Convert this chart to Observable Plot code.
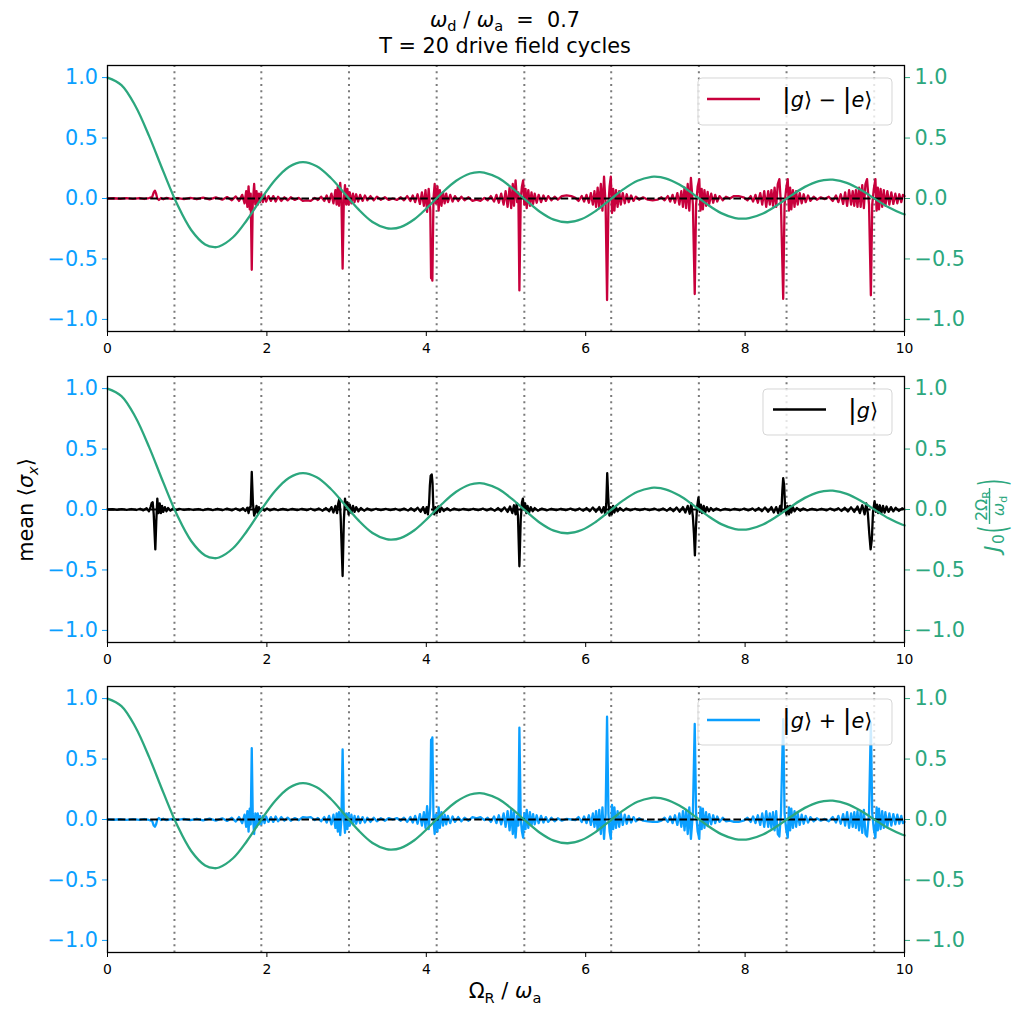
<!DOCTYPE html>
<html><head><meta charset="utf-8">
<script src="https://cdn.jsdelivr.net/npm/d3@7"></script>
<script src="https://cdn.jsdelivr.net/npm/@observablehq/plot@0.6"></script>
<style>
body{margin:0;background:#fff;}
#fig{position:relative;width:1015px;height:1017px;font-family:"DejaVu Sans",sans-serif;}
#fig > svg{position:absolute;left:0;}
text{white-space:pre;}
</style></head><body><div id="fig"></div>
<script>
// ---------- data ----------
const xTicks = [0, 2, 4, 6, 8, 10];
const yTicks = [-1, -0.5, 0, 0.5, 1];
const zeroLines = [0.84, 1.93, 3.03, 4.13, 5.23, 6.32, 7.42, 8.52, 9.62];

const besselPts = [[0,1],[0.175,0.9385],[0.35,0.7652],[0.525,0.5118],[0.7,0.2239],[0.875,-0.0484],[1.05,-0.2601],[1.225,-0.3801],[1.341,-0.4028],[1.4,-0.3971],[1.575,-0.3205],[1.75,-0.1776],[1.925,-0.0068],[2.1,0.1506],[2.275,0.2601],[2.45,0.3001],[2.625,0.2663],[2.8,0.1717],[2.975,0.0419],[3.15,-0.0903],[3.325,-0.1939],[3.5,-0.2459],[3.561,-0.2497],[3.675,-0.2366],[3.85,-0.1712],[4.025,-0.0677],[4.2,0.0477],[4.375,0.1469],[4.55,0.2069],[4.663,0.2184],[4.725,0.2150],[4.9,0.1711],[5.075,0.0875],[5.25,-0.0142],[5.425,-0.1092],[5.6,-0.1749],[5.775,-0.1964],[5.95,-0.1699],[6.125,-0.1031],[6.3,-0.0134],[6.475,0.0772],[6.65,0.1466],[6.825,0.1789],[6.866,0.1801],[7.0,0.1670],[7.175,0.1151],[7.35,0.0366],[7.525,-0.0489],[7.7,-0.1207],[7.875,-0.1615],[7.966,-0.1672],[8.05,-0.1624],[8.225,-0.1239],[8.4,-0.0562],[8.575,0.0237],[8.75,0.0963],[8.925,0.1441],[9.066,0.1567],[9.1,0.1560],[9.275,0.1299],[9.45,0.0727],[9.625,-0.0010],[9.8,-0.0732],[9.975,-0.1263],[10,-0.1315]];

const redPts = [
[0,0],[0.08,0.002],[0.16,-0.002],[0.24,0.003],[0.32,-0.003],[0.4,0.004],[0.46,-0.004],[0.52,0.004],[0.56,0.012],[0.58,0.05],[0.595,0.065],[0.61,0.04],[0.625,0.0],[0.645,-0.012],[0.67,0.004],[0.7,-0.006],[0.74,0.005],[0.8,-0.004],[0.88,0.004],[0.96,-0.005],[1.04,0.005],[1.12,-0.006],[1.2,0.007],[1.28,-0.008],[1.36,0.009],[1.44,-0.01],[1.5,0.012],[1.56,-0.014],[1.61,0.017],[1.65,-0.02],[1.69,0.03],[1.72,-0.04],
[1.74,0.06],[1.755,-0.07],[1.77,0.1],[1.785,-0.09],[1.797,0.04],[1.81,-0.59],[1.822,-0.05],[1.84,0.12],[1.855,-0.05],[1.87,0.06],[1.885,-0.05],[1.9,0.04],[1.915,-0.03],[1.93,0.04],[1.95,-0.03],[1.97,0.03],[1.99,-0.025],[2.02,0.02],[2.05,-0.02],[2.08,0.02],[2.11,-0.025],[2.14,0.015],[2.18,-0.02],[2.22,0.01],[2.26,-0.015],[2.3,0.01],[2.35,-0.012],[2.4,0.005],[2.45,-0.02],[2.5,-0.015],[2.55,-0.02],[2.6,0.005],[2.64,-0.012],[2.68,0.015],[2.72,-0.02],[2.75,0.025],[2.78,-0.03],[2.81,0.04],[2.835,-0.04],[2.86,0.07],[2.875,-0.05],[2.89,0.1],[2.905,-0.06],[2.92,0.13],[2.935,0.0],
[2.95,-0.58],[2.965,-0.02],[2.98,0.11],[2.995,-0.05],[3.01,0.08],[3.025,-0.05],[3.04,0.05],[3.06,-0.04],[3.08,0.04],[3.1,-0.03],[3.12,0.035],[3.145,-0.025],[3.17,0.03],[3.2,-0.02],[3.23,0.025],[3.26,-0.015],[3.3,0.02],[3.34,-0.015],[3.38,0.015],[3.43,-0.01],[3.48,0.01],[3.53,-0.012],[3.58,0.0],[3.63,-0.012],[3.68,0.01],[3.72,-0.015],[3.76,0.02],[3.8,-0.02],[3.83,0.025],[3.86,-0.03],[3.89,0.035],[3.92,-0.045],[3.945,0.05],[3.97,-0.06],[3.99,0.07],[4.01,-0.11],[4.03,0.08],[4.05,-0.1],
[4.06,-0.66],[4.068,-0.6],[4.076,-0.68],[4.09,0.0],[4.105,0.12],[4.12,-0.04],[4.14,0.1],[4.155,-0.1],[4.17,0.07],[4.19,-0.06],[4.21,0.05],[4.23,-0.04],[4.25,0.04],[4.27,-0.03],[4.3,0.03],[4.33,-0.025],[4.36,0.02],[4.4,-0.02],[4.44,0.015],[4.48,-0.015],[4.53,0.01],[4.58,-0.02],[4.63,-0.01],[4.68,-0.02],[4.73,0.005],[4.77,-0.015],[4.81,0.02],[4.85,-0.025],[4.88,0.03],[4.91,-0.035],[4.94,0.04],[4.97,-0.05],[4.995,0.06],[5.02,-0.07],[5.045,0.09],[5.065,-0.08],[5.085,0.12],[5.1,-0.06],[5.12,0.15],[5.14,-0.03],[5.155,0.05],
[5.168,-0.76],[5.185,0.0],[5.2,0.1],[5.215,0.15],[5.23,-0.05],[5.245,0.08],[5.26,-0.08],[5.28,0.07],[5.3,-0.06],[5.32,0.05],[5.34,-0.045],[5.36,0.04],[5.385,-0.035],[5.41,0.03],[5.44,-0.03],[5.47,0.025],[5.5,-0.02],[5.53,0.02],[5.57,-0.015],[5.61,0.015],[5.65,-0.01],[5.7,0.02],[5.76,0.025],[5.82,0.02],[5.87,0.005],[5.91,-0.02],[5.95,0.02],[5.98,-0.025],[6.01,0.03],[6.04,-0.035],[6.065,0.045],[6.09,-0.05],[6.11,0.06],[6.13,-0.07],[6.15,0.09],[6.17,-0.08],[6.19,0.12],[6.21,-0.1],[6.23,0.18],[6.25,-0.05],
[6.268,-0.84],[6.285,-0.05],[6.3,0.1],[6.315,0.18],[6.33,-0.12],[6.345,0.08],[6.36,-0.1],[6.38,0.07],[6.4,-0.07],[6.42,0.06],[6.44,-0.05],[6.465,0.045],[6.49,-0.04],[6.515,0.035],[6.54,-0.03],[6.57,0.025],[6.6,-0.02],[6.63,0.015],[6.67,-0.01],[6.72,0.01],[6.78,-0.01],[6.84,-0.015],[6.9,-0.01],[6.95,0.01],[6.99,-0.015],[7.03,0.02],[7.06,-0.025],[7.09,0.03],[7.12,-0.035],[7.15,0.045],[7.175,-0.05],[7.2,0.06],[7.22,-0.07],[7.24,0.09],[7.26,-0.08],[7.28,0.12],[7.3,-0.1],[7.32,0.17],[7.345,-0.05],
[7.368,-0.79],[7.385,-0.05],[7.405,0.1],[7.425,0.16],[7.44,-0.1],[7.455,0.08],[7.47,-0.09],[7.49,0.07],[7.51,-0.06],[7.53,0.055],[7.55,-0.045],[7.575,0.04],[7.6,-0.035],[7.625,0.03],[7.65,-0.025],[7.68,0.02],[7.72,-0.015],[7.76,0.015],[7.81,0.0],[7.86,0.02],[7.92,0.02],[7.98,0.01],[8.03,-0.015],[8.07,0.02],[8.1,-0.025],[8.13,0.03],[8.16,-0.035],[8.19,0.045],[8.215,-0.05],[8.24,0.06],[8.265,-0.07],[8.29,0.06],[8.31,-0.05],[8.33,0.07],[8.35,-0.06],[8.37,0.09],[8.39,-0.07],[8.41,0.12],[8.43,0.16],[8.45,-0.05],
[8.478,-0.83],[8.495,-0.05],[8.515,0.08],[8.535,0.16],[8.55,-0.1],[8.565,0.09],[8.58,-0.09],[8.6,0.07],[8.62,-0.07],[8.64,0.06],[8.66,-0.05],[8.685,0.045],[8.71,-0.04],[8.735,0.035],[8.76,-0.03],[8.79,0.025],[8.82,-0.02],[8.86,0.015],[8.9,-0.01],[8.95,0.01],[9.0,-0.005],[9.05,0.015],[9.1,-0.02],[9.14,0.025],[9.17,-0.03],[9.2,0.035],[9.23,-0.045],[9.255,0.05],[9.28,-0.06],[9.305,0.07],[9.33,-0.05],[9.35,0.06],[9.37,-0.06],[9.39,0.07],[9.41,-0.07],[9.43,0.09],[9.45,-0.07],[9.47,0.11],[9.49,-0.08],[9.51,0.12],[9.53,0.16],[9.555,-0.05],
[9.578,-0.8],[9.595,-0.05],[9.615,0.08],[9.635,0.16],[9.65,-0.1],[9.665,0.09],[9.68,-0.09],[9.7,0.08],[9.72,-0.07],[9.74,0.07],[9.76,-0.06],[9.785,0.06],[9.81,-0.05],[9.835,0.05],[9.86,-0.045],[9.885,0.04],[9.91,-0.04],[9.935,0.035],[9.96,-0.03],[9.98,0.03],[10,0.02]
];

const blackPts = [
[0,0],[0.06,0.002],[0.12,-0.002],[0.18,0.003],[0.24,-0.003],[0.3,0.004],[0.36,-0.004],[0.41,0.006],[0.45,-0.007],[0.49,0.01],[0.52,-0.015],[0.54,0.02],[0.555,0.055],[0.567,0.06],[0.58,-0.04],[0.6,-0.33],[0.612,-0.1],[0.625,0.09],[0.64,-0.03],[0.655,0.05],[0.67,-0.03],[0.685,0.03],[0.7,-0.02],[0.72,0.02],[0.74,-0.015],[0.76,0.012],[0.79,-0.01],[0.82,0.008],[0.86,-0.006],[0.9,0.005],[0.96,-0.004],[1.02,0.004],[1.08,-0.004],[1.14,0.004],[1.2,-0.005],[1.26,0.005],[1.32,-0.005],[1.38,0.006],[1.44,-0.006],[1.5,0.007],[1.56,-0.007],[1.61,0.008],[1.66,-0.009],[1.7,0.01],[1.73,-0.012],[1.755,0.015],[1.77,-0.03],[1.785,0.02],[1.797,0.02],[1.81,0.31],[1.825,0.05],[1.84,-0.05],[1.855,-0.02],[1.87,0.03],[1.885,-0.03],[1.9,0.02],[1.92,-0.015],[1.94,0.012],[1.97,-0.01],[2.0,0.008],[2.04,-0.008],[2.09,0.006],[2.14,-0.006],[2.2,0.005],[2.26,-0.005],[2.32,0.005],[2.38,-0.005],[2.44,0.005],[2.5,-0.006],[2.55,0.006],[2.6,-0.008],[2.65,0.009],[2.7,-0.01],[2.74,0.012],[2.78,-0.015],[2.81,0.02],[2.835,-0.025],[2.86,0.03],[2.88,-0.03],[2.895,0.05],[2.91,0.09],[2.925,-0.05],[2.95,-0.55],[2.965,-0.1],[2.98,0.09],[2.995,0.02],[3.01,0.06],[3.025,-0.04],[3.04,0.04],[3.06,-0.03],[3.08,0.03],[3.1,-0.02],[3.12,0.02],[3.15,-0.015],[3.18,0.012],[3.22,-0.01],[3.26,0.008],[3.31,-0.007],[3.37,0.006],[3.43,-0.005],[3.49,0.005],[3.55,-0.005],[3.61,0.006],[3.67,-0.007],[3.72,0.008],[3.77,-0.009],[3.81,0.01],[3.85,-0.012],[3.89,0.015],[3.93,-0.018],[3.96,0.02],[3.985,-0.03],[4.005,0.02],[4.02,-0.04],[4.035,0.05],[4.045,0.2],[4.055,0.28],[4.068,0.29],[4.078,0.22],[4.088,0.02],[4.1,-0.04],[4.115,0.02],[4.13,-0.03],[4.15,0.025],[4.17,-0.02],[4.19,0.015],[4.22,-0.012],[4.26,0.01],[4.3,-0.008],[4.35,0.007],[4.41,-0.006],[4.47,0.005],[4.53,-0.005],[4.59,0.006],[4.65,-0.006],[4.71,0.007],[4.76,-0.008],[4.81,0.009],[4.86,-0.01],[4.9,0.012],[4.94,-0.014],[4.98,0.017],[5.02,-0.02],[5.05,0.025],[5.08,-0.03],[5.1,0.035],[5.12,-0.04],[5.135,0.05],[5.15,-0.05],[5.168,-0.47],[5.185,-0.08],[5.2,0.06],[5.212,0.09],[5.225,0.0],[5.24,0.05],[5.255,-0.03],[5.27,0.03],[5.29,-0.025],[5.31,0.02],[5.335,-0.015],[5.36,0.012],[5.4,-0.01],[5.45,0.008],[5.51,-0.007],[5.57,0.006],[5.63,-0.006],[5.69,0.006],[5.75,-0.006],[5.81,0.007],[5.87,-0.008],[5.92,0.009],[5.97,-0.01],[6.01,0.012],[6.05,-0.014],[6.09,0.016],[6.13,-0.018],[6.17,0.02],[6.2,-0.025],[6.225,0.02],[6.245,-0.04],[6.258,0.05],[6.27,0.3],[6.283,0.1],[6.297,-0.05],[6.312,0.02],[6.327,-0.04],[6.343,0.03],[6.36,-0.025],[6.38,0.02],[6.4,-0.015],[6.43,0.012],[6.47,-0.01],[6.51,0.008],[6.56,-0.007],[6.62,0.006],[6.68,-0.006],[6.74,0.006],[6.8,-0.006],[6.86,0.007],[6.92,-0.008],[6.97,0.009],[7.02,-0.01],[7.06,0.012],[7.1,-0.014],[7.14,0.016],[7.18,-0.018],[7.22,0.02],[7.25,-0.025],[7.28,0.03],[7.305,-0.035],[7.325,0.05],[7.345,-0.06],[7.358,-0.2],[7.37,-0.38],[7.383,-0.15],[7.397,0.02],[7.415,0.1],[7.43,-0.02],[7.445,0.04],[7.46,-0.03],[7.48,0.03],[7.5,-0.025],[7.52,0.02],[7.545,-0.015],[7.57,0.012],[7.6,-0.01],[7.64,0.008],[7.69,-0.007],[7.75,0.006],[7.81,-0.006],[7.87,0.006],[7.93,-0.006],[7.99,0.007],[8.04,-0.008],[8.09,0.009],[8.13,-0.01],[8.17,0.012],[8.21,-0.014],[8.25,0.016],[8.29,-0.018],[8.33,0.02],[8.36,-0.025],[8.39,0.02],[8.415,-0.03],[8.44,0.03],[8.455,-0.02],[8.467,0.15],[8.478,0.26],[8.49,0.2],[8.503,0.0],[8.518,-0.04],[8.533,0.03],[8.55,-0.04],[8.565,0.03],[8.58,-0.025],[8.6,0.02],[8.62,-0.015],[8.65,0.012],[8.69,-0.01],[8.73,0.008],[8.78,-0.007],[8.84,0.006],[8.9,-0.006],[8.96,0.006],[9.02,-0.007],[9.07,0.008],[9.12,-0.009],[9.17,0.01],[9.21,-0.012],[9.25,0.014],[9.29,-0.016],[9.33,0.018],[9.37,-0.02],[9.41,0.025],[9.44,-0.03],[9.47,0.035],[9.5,-0.04],[9.52,0.05],[9.54,-0.03],[9.558,-0.2],[9.575,-0.33],[9.59,-0.25],[9.605,-0.02],[9.625,0.07],[9.64,-0.02],[9.655,0.04],[9.67,-0.03],[9.69,0.035],[9.71,-0.03],[9.73,0.03],[9.75,-0.025],[9.775,0.025],[9.8,-0.02],[9.83,0.02],[9.86,-0.015],[9.89,0.015],[9.93,-0.012],[9.97,0.01],[10,0.0]
];

const bluePts = [
[0,0],[0.08,-0.002],[0.16,0.002],[0.24,-0.003],[0.32,0.003],[0.4,-0.004],[0.46,0.004],[0.52,-0.004],[0.56,-0.012],[0.58,-0.05],[0.595,-0.06],[0.61,-0.04],[0.625,0.0],[0.645,0.012],[0.67,-0.004],[0.7,0.006],[0.74,-0.005],[0.8,0.004],[0.88,-0.004],[0.96,0.005],[1.04,-0.005],[1.12,0.006],[1.2,-0.007],[1.28,0.008],[1.36,-0.009],[1.44,0.01],[1.5,-0.012],[1.56,0.014],[1.61,-0.017],[1.65,0.02],[1.69,-0.03],[1.72,0.04],
[1.74,-0.06],[1.755,0.07],[1.77,-0.1],[1.785,0.09],[1.797,-0.04],[1.81,0.59],[1.822,0.05],[1.84,-0.12],[1.855,0.05],[1.87,-0.06],[1.885,0.05],[1.9,-0.04],[1.915,0.03],[1.93,-0.04],[1.95,0.03],[1.97,-0.03],[1.99,0.025],[2.02,-0.02],[2.05,0.02],[2.08,-0.02],[2.11,0.025],[2.14,-0.015],[2.18,0.02],[2.22,-0.01],[2.26,0.015],[2.3,-0.01],[2.35,0.012],[2.4,-0.005],[2.45,0.02],[2.5,0.015],[2.55,0.02],[2.6,-0.005],[2.64,0.012],[2.68,-0.015],[2.72,0.02],[2.75,-0.025],[2.78,0.03],[2.81,-0.04],[2.835,0.04],[2.86,-0.07],[2.875,0.05],[2.89,-0.1],[2.905,0.06],[2.92,-0.13],[2.935,0.0],
[2.95,0.58],[2.965,0.02],[2.98,-0.11],[2.995,0.05],[3.01,-0.08],[3.025,0.05],[3.04,-0.05],[3.06,0.04],[3.08,-0.04],[3.1,0.03],[3.12,-0.035],[3.145,0.025],[3.17,-0.03],[3.2,0.02],[3.23,-0.025],[3.26,0.015],[3.3,-0.02],[3.34,0.015],[3.38,-0.015],[3.43,0.01],[3.48,-0.01],[3.53,0.012],[3.58,0.0],[3.63,0.012],[3.68,-0.01],[3.72,0.015],[3.76,-0.02],[3.8,0.02],[3.83,-0.025],[3.86,0.03],[3.89,-0.035],[3.92,0.045],[3.945,-0.05],[3.97,0.06],[3.99,-0.07],[4.01,0.11],[4.03,-0.08],[4.05,0.1],
[4.06,0.66],[4.068,0.6],[4.076,0.68],[4.09,0.0],[4.105,-0.12],[4.12,0.04],[4.14,-0.1],[4.155,0.1],[4.17,-0.07],[4.19,0.06],[4.21,-0.05],[4.23,0.04],[4.25,-0.04],[4.27,0.03],[4.3,-0.03],[4.33,0.025],[4.36,-0.02],[4.4,0.02],[4.44,-0.015],[4.48,0.015],[4.53,-0.01],[4.58,0.02],[4.63,0.01],[4.68,0.02],[4.73,-0.005],[4.77,0.015],[4.81,-0.02],[4.85,0.025],[4.88,-0.03],[4.91,0.035],[4.94,-0.04],[4.97,0.05],[4.995,-0.06],[5.02,0.07],[5.045,-0.09],[5.065,0.08],[5.085,-0.12],[5.1,0.06],[5.12,-0.15],[5.14,0.03],[5.155,-0.05],
[5.168,0.76],[5.185,0.0],[5.2,-0.1],[5.215,-0.15],[5.23,0.05],[5.245,-0.08],[5.26,0.08],[5.28,-0.07],[5.3,0.06],[5.32,-0.05],[5.34,0.045],[5.36,-0.04],[5.385,0.035],[5.41,-0.03],[5.44,0.03],[5.47,-0.025],[5.5,0.02],[5.53,-0.02],[5.57,0.015],[5.61,-0.015],[5.65,0.01],[5.7,-0.01],[5.76,0.005],[5.82,0.0],[5.87,-0.005],[5.91,0.02],[5.95,-0.02],[5.98,0.025],[6.01,-0.03],[6.04,0.035],[6.065,-0.045],[6.09,0.05],[6.11,-0.06],[6.13,0.07],[6.15,-0.09],[6.17,0.08],[6.19,-0.12],[6.21,0.1],[6.23,-0.16],[6.25,0.05],
[6.268,0.85],[6.285,0.05],[6.3,-0.1],[6.315,-0.16],[6.33,0.12],[6.345,-0.08],[6.36,0.1],[6.38,-0.07],[6.4,0.07],[6.42,-0.06],[6.44,0.05],[6.465,-0.045],[6.49,0.04],[6.515,-0.035],[6.54,0.03],[6.57,-0.025],[6.6,0.02],[6.63,-0.015],[6.67,0.01],[6.72,-0.01],[6.78,-0.015],[6.84,-0.02],[6.9,-0.02],[6.95,-0.01],[6.99,0.015],[7.03,-0.02],[7.06,0.025],[7.09,-0.03],[7.12,0.035],[7.15,-0.045],[7.175,0.05],[7.2,-0.06],[7.22,0.07],[7.24,-0.09],[7.26,0.08],[7.28,-0.12],[7.3,0.1],[7.32,-0.16],[7.345,0.05],
[7.368,0.79],[7.385,0.05],[7.405,-0.1],[7.425,-0.16],[7.44,0.1],[7.455,-0.08],[7.47,0.09],[7.49,-0.07],[7.51,0.06],[7.53,-0.055],[7.55,0.045],[7.575,-0.04],[7.6,0.035],[7.625,-0.03],[7.65,0.025],[7.68,-0.02],[7.72,0.015],[7.76,-0.015],[7.81,-0.01],[7.86,-0.02],[7.92,-0.02],[7.98,-0.01],[8.03,0.015],[8.07,-0.02],[8.1,0.025],[8.13,-0.03],[8.16,0.035],[8.19,-0.045],[8.215,0.05],[8.24,-0.06],[8.265,0.07],[8.29,-0.06],[8.31,0.05],[8.33,-0.07],[8.35,0.06],[8.37,-0.09],[8.39,0.07],[8.41,-0.12],[8.43,-0.14],[8.45,0.05],
[8.478,0.83],[8.495,0.05],[8.515,-0.08],[8.535,-0.15],[8.55,0.1],[8.565,-0.09],[8.58,0.09],[8.6,-0.07],[8.62,0.07],[8.64,-0.06],[8.66,0.05],[8.685,-0.045],[8.71,0.04],[8.735,-0.035],[8.76,0.03],[8.79,-0.025],[8.82,0.02],[8.86,-0.015],[8.9,0.01],[8.95,-0.01],[9.0,0.005],[9.05,-0.015],[9.1,0.02],[9.14,-0.025],[9.17,0.03],[9.2,-0.035],[9.23,0.045],[9.255,-0.05],[9.28,0.06],[9.305,-0.07],[9.33,0.05],[9.35,-0.06],[9.37,0.06],[9.39,-0.07],[9.41,0.07],[9.43,-0.09],[9.45,0.07],[9.47,-0.11],[9.49,0.08],[9.51,-0.12],[9.53,-0.14],[9.555,0.05],
[9.578,0.8],[9.595,0.05],[9.615,-0.08],[9.635,-0.15],[9.65,0.1],[9.665,-0.09],[9.68,0.09],[9.7,-0.08],[9.72,0.07],[9.74,-0.07],[9.76,0.06],[9.785,-0.06],[9.81,0.05],[9.835,-0.05],[9.86,0.045],[9.885,-0.04],[9.91,0.04],[9.935,-0.035],[9.96,0.03],[9.98,-0.03],[10,-0.02]
];

// ---------- styling ----------
const RED = "#c8003c", BLUE = "#0a9fff", GREEN = "#2ca77e", BLACK = "#000000";
const FONT = "DejaVu Sans";
const fig = document.getElementById("fig");
const fmt = d => (d < 0 ? "\u2212" + (-d).toFixed(1) : d.toFixed(1));

function panel(pts, color, top) {
  const p = Plot.plot({
    width: 1015, height: 300,
    marginLeft: 107, marginRight: 111, marginTop: 10, marginBottom: 24,
    x: {domain: [0, 10]},
    y: {domain: [-1.1, 1.1]},
    style: {fontFamily: FONT, background: "transparent", overflow: "visible"},
    marks: [
      Plot.ruleX(zeroLines, {stroke: "#7a7a7a", strokeWidth: 2, strokeDasharray: "2,4.3"}),
      Plot.line(pts, {x: d => d[0], y: d => d[1], stroke: color, strokeWidth: 2.3}),
      Plot.ruleY([0], {stroke: "black", strokeWidth: 2.1, strokeDasharray: "7.6,3.2"}),
      Plot.line(besselPts, {x: d => d[0], y: d => d[1], stroke: GREEN, strokeWidth: 2.3, curve: "catmull-rom"}),
      Plot.axisX({ticks: xTicks, tickFormat: d => String(d), fontSize: 13.9, tickSize: 5, tickPadding: 7, label: null, color: "black"}),
      Plot.axisY({anchor: "left", ticks: yTicks, tickFormat: fmt, fontSize: 20.8, tickSize: 5, tickPadding: 4.5, label: null, color: BLUE}),
      Plot.axisY({anchor: "right", ticks: yTicks, tickFormat: fmt, fontSize: 20.8, tickSize: 5, tickPadding: 5, label: null, color: GREEN}),
      Plot.frame({stroke: "black", strokeWidth: 1.3})
    ]
  });
  p.style.top = top + "px";
  fig.appendChild(p);
}
panel(redPts, RED, 55);
panel(blackPts, BLACK, 366);
panel(bluePts, BLUE, 676);

// ---------- overlay: titles, labels, legends ----------
const svg = d3.create("svg").attr("width", 1015).attr("height", 1017)
  .style("position", "absolute").style("top", "0px").style("left", "0px")
  .attr("font-family", FONT);
fig.appendChild(svg.node());

function rich(g, x, y, segs, o) {
  const t = g.append("text").attr("x", x).attr("y", y)
    .attr("font-size", o.size).attr("fill", o.fill || "black")
    .attr("text-anchor", o.anchor || "start");
  let shift = 0;
  for (const s of segs) {
    const target = s.sub ? o.size * 0.22 : 0;
    const ts = t.append("tspan").text(s.t);
    if (target !== shift) { ts.attr("dy", target - shift); shift = target; }
    if (s.sub) ts.attr("font-size", o.size * 0.7);
    if (s.big) ts.attr("font-size", o.size * s.big);
    if (s.i) ts.attr("font-style", "italic");
  }
  return t;
}

// title
rich(svg, 505, 26.5, [{t: "ω", i: 1}, {t: "d", sub: 1}, {t: " / "}, {t: "ω", i: 1}, {t: "a", sub: 1}, {t: "  =  0.7"}], {size: 20.8, anchor: "middle"});
rich(svg, 505, 53, [{t: "T = 20 drive field cycles"}], {size: 20.8, anchor: "middle"});

// x label
rich(svg, 505, 998, [{t: "Ω"}, {t: "R", sub: 1}, {t: " / "}, {t: "ω", i: 1}, {t: "a", sub: 1}], {size: 20.8, anchor: "middle"});

// left y label
const gl = svg.append("g").attr("transform", "translate(33,510) rotate(-90)");
rich(gl, 0, 0, [{t: "mean ⟨"}, {t: "σ", i: 1}, {t: "x", i: 1, sub: 1}, {t: "⟩"}], {size: 20.8, anchor: "middle"});

// right y label J0(2ΩR/ωd)
const gr = svg.append("g").attr("transform", "translate(992,510) rotate(-90)").attr("fill", GREEN);
gr.append("text").attr("x", -42).attr("y", 8).attr("font-size", 22).attr("font-style", "italic").attr("fill", GREEN).text("J");
gr.append("text").attr("x", -34).attr("y", 12).attr("font-size", 15.4).attr("fill", GREEN).text("0");
gr.append("text").attr("transform", "translate(-23,12.5) scale(0.65,1.3)").attr("font-size", 28).attr("fill", GREEN).text("(");
gr.append("line").attr("x1", -14).attr("x2", 22).attr("y1", -2.5).attr("y2", -2.5).attr("stroke", GREEN).attr("stroke-width", 1.4);
rich(gr, 4, -5.5, [{t: "2Ω"}, {t: "R", sub: 1}], {size: 16, anchor: "middle", fill: GREEN});
rich(gr, 4, 11.5, [{t: "ω", i: 1}, {t: "d", sub: 1}], {size: 16, anchor: "middle", fill: GREEN});
gr.append("text").attr("transform", "translate(24,12.5) scale(0.65,1.3)").attr("font-size", 28).attr("fill", GREEN).text(")");

// legends
function legend(x, y, w, h, color, lineX, lineY, textX, segs) {
  svg.append("rect").attr("x", x).attr("y", y).attr("width", w).attr("height", h)
    .attr("rx", 4).attr("fill", "white").attr("fill-opacity", 0.8)
    .attr("stroke", "#cccccc").attr("stroke-opacity", 0.8).attr("stroke-width", 1);
  svg.append("line").attr("x1", lineX).attr("x2", lineX + 53).attr("y1", lineY).attr("y2", lineY)
    .attr("stroke", color).attr("stroke-width", 2.3);
  rich(svg, textX, lineY + 8, segs, {size: 20.8});
}
const bar = {t: "|", big: 1.25};
legend(698, 78, 194, 47, RED, 707, 99, 782, [bar, {t: "g", i: 1}, {t: "⟩ − "}, bar, {t: "e", i: 1}, {t: "⟩"}]);
legend(763, 389, 129, 46, BLACK, 773, 409.5, 848, [bar, {t: "g", i: 1}, {t: "⟩"}]);
legend(698, 699, 194, 46, BLUE, 707, 720, 782, [bar, {t: "g", i: 1}, {t: "⟩ + "}, bar, {t: "e", i: 1}, {t: "⟩"}]);
</script></body></html>
